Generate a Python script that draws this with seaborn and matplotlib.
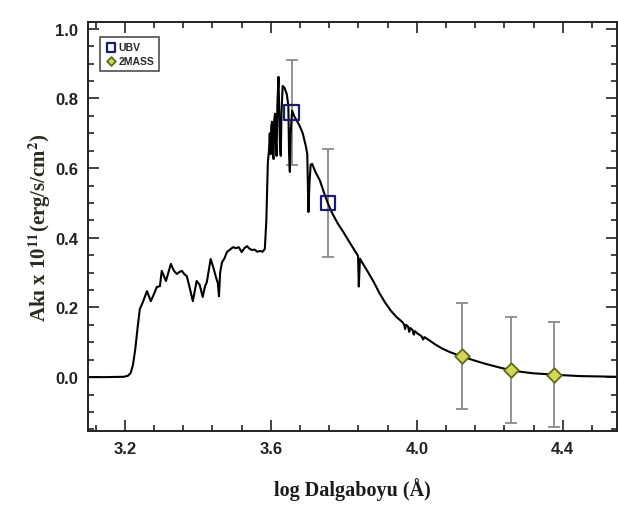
import matplotlib
matplotlib.use("Agg")
import matplotlib.pyplot as plt
import seaborn as sns
import pandas as pd
from matplotlib.ticker import MultipleLocator

# ---------------- data ----------------
spec_logwl = [3.099, 3.1454, 3.1973, 3.2087, 3.2160, 3.2222, 3.2285, 3.2347, 3.2409, 3.2492,
              3.2606, 3.2710, 3.2804, 3.2876, 3.2960, 3.3011, 3.3126, 3.3261, 3.3344, 3.3427,
              3.3499, 3.3562, 3.3634, 3.3697, 3.3780, 3.3863, 3.3967, 3.4050, 3.4133, 3.4195,
              3.4247, 3.4351, 3.4424, 3.4496, 3.4548, 3.4579, 3.4611, 3.4663, 3.4725, 3.4797,
              3.4881, 3.4964, 3.5047, 3.5119, 3.5202, 3.5275, 3.5348, 3.5421, 3.5483, 3.5556,
              3.5628, 3.5701, 3.5774, 3.5836, 3.5877, 3.5919, 3.5950, 3.5971, 3.5992, 3.6012,
              3.6033, 3.6054, 3.6075, 3.6095, 3.6116, 3.6137, 3.6158, 3.6179, 3.6210, 3.6230,
              3.6251, 3.6272, 3.6293, 3.6324, 3.6376, 3.6438, 3.6480, 3.6500, 3.6521, 3.6542,
              3.6584, 3.6646, 3.6719, 3.6791, 3.6874, 3.6957, 3.6999, 3.7030, 3.7061, 3.7092,
              3.7134, 3.7217, 3.7342, 3.7456, 3.7560, 3.7684, 3.7840, 3.7996, 3.8152, 3.8307,
              3.8390, 3.8411, 3.8442, 3.8515, 3.8671, 3.8826, 3.8982, 3.9138, 3.9294, 3.9450,
              3.9605, 3.9657, 3.9678, 3.9709, 3.9761, 3.9792, 3.9823, 3.9886, 3.9917, 3.9948,
              4.0021, 4.0124, 4.0176, 4.0207, 4.0353, 4.0488, 4.0696, 4.0903, 4.1111, 4.1236,
              4.1422, 4.1630, 4.1921, 4.2253, 4.2565, 4.2876, 4.3188, 4.3499, 4.3748, 4.4122,
              4.4465, 4.4953, 4.5480]
spec_flux = [0.000, 0.000, 0.001, 0.004, 0.012, 0.035, 0.080, 0.140, 0.195, 0.215,
             0.247, 0.218, 0.240, 0.259, 0.261, 0.305, 0.276, 0.325, 0.305, 0.296,
             0.302, 0.305, 0.295, 0.290, 0.255, 0.218, 0.276, 0.265, 0.230, 0.260,
             0.273, 0.339, 0.315, 0.287, 0.270, 0.232, 0.300, 0.330, 0.340, 0.359,
             0.366, 0.373, 0.370, 0.373, 0.359, 0.370, 0.376, 0.368, 0.365, 0.366,
             0.360, 0.362, 0.360, 0.368, 0.450, 0.618, 0.650, 0.700, 0.640, 0.720,
             0.733, 0.640, 0.626, 0.740, 0.756, 0.680, 0.635, 0.780, 0.862, 0.760,
             0.660, 0.635, 0.760, 0.836, 0.830, 0.812, 0.780, 0.640, 0.589, 0.700,
             0.765, 0.748, 0.735, 0.721, 0.700, 0.664, 0.640, 0.474, 0.560, 0.610,
             0.612, 0.590, 0.565, 0.530, 0.500, 0.470, 0.440, 0.415, 0.388, 0.362,
             0.348, 0.260, 0.340, 0.327, 0.300, 0.272, 0.240, 0.213, 0.190, 0.172,
             0.158, 0.150, 0.138, 0.150, 0.145, 0.130, 0.141, 0.135, 0.122, 0.132,
             0.125, 0.118, 0.108, 0.115, 0.105, 0.095, 0.082, 0.072, 0.064, 0.060,
             0.053, 0.046, 0.037, 0.028, 0.020, 0.015, 0.011, 0.009, 0.007, 0.005,
             0.003, 0.002, 0.001]

ubv_logwl = [3.657, 3.757]
ubv_flux = [0.76, 0.50]
ubv_err = [0.15, 0.155]

tmass_logwl = [4.124, 4.257, 4.375]
tmass_flux = [0.06, 0.02, 0.007]
tmass_err = [0.152, 0.153, 0.151]

xticks = [3.2, 3.6, 4.0, 4.4]
yticks = [0.0, 0.2, 0.4, 0.6, 0.8, 1.0]

# ---------------- plot ----------------
sns.set_style("ticks")
plt.rcParams['font.family'] = ['Liberation Sans', 'DejaVu Sans']
plt.rcParams['mathtext.fontset'] = 'stix'

fig = plt.figure(figsize=(6.18, 5.06), dpi=100)
ax = fig.add_axes([0.1424, 0.146, 0.8556, 0.809])

spec = pd.DataFrame({"x": spec_logwl, "y": spec_flux})
sns.lineplot(data=spec, x="x", y="y", ax=ax, color="black", lw=1.5,
             estimator=None, sort=False, zorder=2)

ax.errorbar(ubv_logwl, ubv_flux, yerr=ubv_err, fmt='none', ecolor='#8a8a8a',
            elinewidth=1.3, capsize=4, capthick=1.3, zorder=1)
ax.errorbar(tmass_logwl, tmass_flux, yerr=tmass_err, fmt='none', ecolor='#8a8a8a',
            elinewidth=1.3, capsize=4, capthick=1.3, zorder=1)

ubv = pd.DataFrame({"x": ubv_logwl, "y": ubv_flux})
tm = pd.DataFrame({"x": tmass_logwl, "y": tmass_flux})
sns.scatterplot(data=ubv, x="x", y="y", ax=ax, marker='s', s=110,
                facecolor='none', edgecolor='#1c1c6a', linewidth=1.6,
                label='UBV', zorder=3)
sns.scatterplot(data=tm, x="x", y="y", ax=ax, marker='D', s=55,
                facecolor='#d2d65a', edgecolor='#5e6a18', linewidth=1.3,
                label='2MASS', zorder=3)

ax.set_xlim(3.099, 4.548)
ax.set_ylim(-0.155, 1.02)
ax.set_xticks(xticks)
ax.set_xticklabels([f"{v:.1f}" for v in xticks])
ax.set_yticks(yticks)
ax.set_yticklabels([f"{v:.1f}" for v in yticks])
ax.xaxis.set_minor_locator(MultipleLocator(0.08))
ax.yaxis.set_minor_locator(MultipleLocator(0.05))
ax.tick_params(which='both', direction='in', top=True, right=True,
               color='#222222', width=1.2)
ax.tick_params(which='major', length=8, labelsize=12, pad=7)
ax.tick_params(which='minor', length=4)
for lab in ax.get_xticklabels() + ax.get_yticklabels():
    lab.set_fontweight('bold')
    lab.set_color('#222222')
for sp in ax.spines.values():
    sp.set_linewidth(1.4)
    sp.set_color('#222222')

ax.set_xlabel("log Dalgaboyu (Å)", family=['Liberation Serif', 'DejaVu Serif'],
              fontweight='bold', fontsize=14.5, labelpad=15, color='#1a1a1a')
ax.set_ylabel(r"Akı x 10$^{\mathbf{11}}$(erg/s/cm$^{\mathbf{2}}$)",
              family=['Liberation Serif', 'DejaVu Serif'],
              fontweight='bold', fontsize=15, labelpad=2, color='#2a2a1e')

leg = ax.legend(loc='upper left', bbox_to_anchor=(0.012, 0.975), frameon=True,
                fancybox=False, prop={'weight': 'bold', 'size': 7.5},
                handletextpad=0.1, borderpad=0.5, labelspacing=0.3,
                handlelength=1.2, markerscale=0.6)
leg.get_frame().set_edgecolor('#222222')
leg.get_frame().set_linewidth(1.2)

fig.savefig("out.png", dpi=100)
